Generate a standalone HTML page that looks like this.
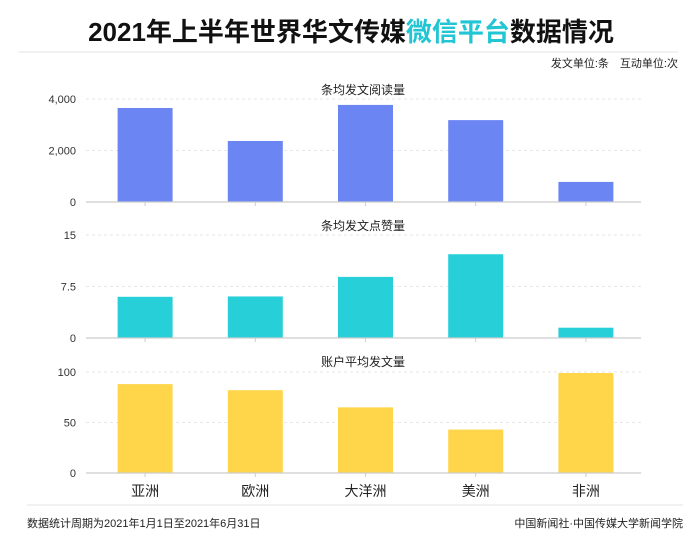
<!DOCTYPE html>
<html><head><meta charset="utf-8"><style>
body{margin:0;width:700px;height:543px;background:#fff;overflow:hidden;font-family:"Liberation Sans","Noto Sans CJK SC",sans-serif}
svg{display:block}
</style></head><body>
<svg id="c" width="700" height="543" xmlns="http://www.w3.org/2000/svg">
<text x="351" y="41" text-anchor="middle" font-size="26" font-weight="bold" fill="#111" font-family="Liberation Sans,Noto Sans CJK SC,sans-serif">2021年上半年世界华文传媒<tspan fill="#22c5d4">微信平台</tspan>数据情况</text>
<line x1="19" y1="52" x2="678" y2="52" stroke="#e3e3e3"/>
<text x="678" y="67" text-anchor="end" font-size="11" fill="#222" font-family="Liberation Sans,Noto Sans CJK SC,sans-serif">发文单位:条　互动单位:次</text>
<line x1="27" y1="505" x2="683" y2="505" stroke="#e3e3e3"/>
<text x="27" y="527" font-size="11" fill="#222" font-family="Liberation Sans,Noto Sans CJK SC,sans-serif">数据统计周期为2021年1月1日至2021年6月31日</text>
<text x="683" y="527" text-anchor="end" font-size="11" fill="#222" font-family="Liberation Sans,Noto Sans CJK SC,sans-serif">中国新闻社·中国传媒大学新闻学院</text>
</svg>
<script>
const categories=["亚洲","欧洲","大洋洲","美洲","非洲"];
const readValues=[3650,2370,3770,3180,780];
const likeValues=[6.0,6.05,8.9,12.2,1.5];
const postValues=[88,82,65,43,99];
const readTicks=[0,2000,4000];
const likeTicks=[0,7.5,15];
const postTicks=[0,50,100];
const readTickLabels=["0","2,000","4,000"];
const likeTickLabels=["0","7.5","15"];
const postTickLabels=["0","50","100"];
const panelTitles=["条均发文阅读量","条均发文点赞量","账户平均发文量"];
const NS="http://www.w3.org/2000/svg";
const svg=document.getElementById('c');
const FONT="Liberation Sans,Noto Sans CJK SC,sans-serif";
function mk(t,a,p){const e=document.createElementNS(NS,t);for(const k in a)e.setAttribute(k,a[k]);(p||svg).appendChild(e);return e;}
const x0=90,x1=641,band=(x1-x0)/categories.length;
function xc(i){return x0+band*(i+0.5);}
const panels=[
 {vals:readValues,ticks:readTicks,labels:readTickLabels,max:4000,base:202,top:99,color:"#6b85f2",title:panelTitles[0],ty:94,name:"reads"},
 {vals:likeValues,ticks:likeTicks,labels:likeTickLabels,max:15,base:338,top:235,color:"#27cfd9",title:panelTitles[1],ty:230,name:"likes"},
 {vals:postValues,ticks:postTicks,labels:postTickLabels,max:100,base:473,top:372,color:"#ffd54a",title:panelTitles[2],ty:366,name:"posts"}
];
panels.forEach((p,pi)=>{
 const g=mk('g',{});
 
 
 const y=v=>p.base-(v/p.max)*(p.base-p.top);
 const t=mk('text',{x:363,y:p.ty,'text-anchor':'middle','font-size':12,fill:'#222','font-family':FONT},g);
 t.textContent=p.title;
 
 
 p.ticks.forEach((tv,ti)=>{
  const yy=y(tv);
  if(tv!==0){const gl=mk('line',{x1:x0-4,x2:x1,y1:yy,y2:yy,stroke:'#e6e6e6','stroke-dasharray':'3,3'},g);
   
   }
  const tl=mk('text',{x:76,y:yy+4,'text-anchor':'end','font-size':11,fill:'#333','font-family':FONT},g);
  tl.textContent=p.labels[ti];
  
  
 });
 p.vals.forEach((v,i)=>{
  const r=mk('rect',{x:xc(i)-27.5,y:y(v),width:55,height:p.base-y(v),fill:p.color},g);
  
  
  const tk=mk('line',{x1:xc(i),x2:xc(i),y1:p.base,y2:p.base+4,stroke:'#ccc'},g);
  
  
 });
 const ax=mk('line',{x1:x0-4,x2:x1,y1:p.base,y2:p.base,stroke:'#ccc','stroke-width':1.2},g);
 
 
 if(pi===2){categories.forEach((c,i)=>{
  const l=mk('text',{x:xc(i),y:p.base+23,'text-anchor':'middle','font-size':14,fill:'#222','font-family':FONT},g);
  l.textContent=c;
  
  
 });}
});
</script>
</body></html>
